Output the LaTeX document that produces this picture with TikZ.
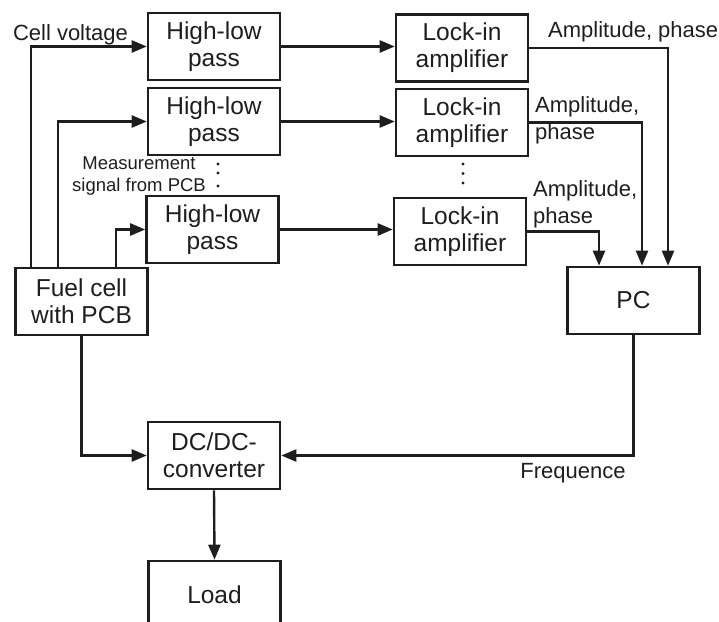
\documentclass[tikz,border=0pt]{standalone}
\usepackage{fontspec}
\setmainfont{Liberation Sans}
\usetikzlibrary{arrows.meta,calc}
\definecolor{ink}{HTML}{1E1E1E}
\begin{document}
\begin{tikzpicture}[x=1pt,y=-1pt,
  box/.style={draw=ink,line width=2.6pt,minimum width=132pt,minimum height=67pt,
    inner sep=0pt,align=center,text=ink,font=\fontsize{24.5}{27}\selectfont},
  lbl/.style={text=ink,inner sep=0pt,align=left,font=\fontsize{22}{27}\selectfont},
  arr/.style={draw=ink,line width=2.4pt,-{Triangle[length=15pt,width=12pt]}},
  dotc/.style={fill=ink,circle,inner sep=0pt,minimum size=3.2pt}]
\useasboundingbox (0,0) rectangle (719,621);
% boxes
\node[box] (HL1) at (214,46.5) {High-low\\pass};
\node[box] (HL2) at (214,121.5) {High-low\\pass};
\node[box] (HL3) at (212.5,229.5) {High-low\\pass};
\node[box] (LA1) at (462,48) {Lock-in\\amplifier};
\node[box] (LA2) at (462,122.5) {Lock-in\\amplifier};
\node[box] (LA3) at (460,231.5) {Lock-in\\amplifier};
\node[box] (FC) at (81.5,301.5) {Fuel cell\\with PCB};
\node[box] (PC) at (633.5,300.5) {PC};
\node[box] (DC) at (214,455.5) {DC/DC-\\converter};
\node[box] (LD) at (214.5,594.5) {Load};
% fuel cell to filters
\draw[arr] ([xshift=-50.5pt]FC.north) |- (HL1.west);
\draw[arr] ([xshift=-23.5pt]FC.north) |- (HL2.west);
\draw[arr] ([xshift=34.5pt]FC.north) |- (HL3.west);
% filters to lock-in
\draw[arr] (HL1.east) -- (HL1.east -| LA1.west);
\draw[arr] (HL2.east) -- (HL2.east -| LA2.west);
\draw[arr] (HL3.east) -- (HL3.east -| LA3.west);
% lock-in to PC
\draw[arr] (LA1.east) -| ([xshift=34.5pt]PC.north);
\draw[arr] (LA2.east) -| ([xshift=8.5pt]PC.north);
\draw[arr] (LA3.east) -| ([xshift=-34.5pt]PC.north);
% PC to DC, FC to DC, DC to load
\draw[arr] (PC.south) |- (DC.east);
\draw[arr] (FC.south) |- (DC.west);
\draw[arr] (DC.south) -- (LD.north);
% labels
\node[lbl,anchor=center] (lcv) at (70.5,35) {Cell voltage};
\node[lbl,anchor=west] (la1) at (548,32) {Amplitude, phase};
\node[lbl,anchor=north west] (la2) at (535,96) {Amplitude,\\phase};
\node[lbl,anchor=north west] (la3) at (533,180) {Amplitude,\\phase};
\node[text=ink,inner sep=0pt,align=center,font=\fontsize{18.5}{22}\selectfont] (meas) at (139,176) {Measurement\\signal from PCB};
\node[lbl,anchor=center] (freq) at (573,473) {Frequence};
% dots
\node[dotc] (d1) at (218,164) {};
\node[dotc] (d2) at (218,173) {};
\node[dotc] (d3) at (218,186) {};
\node[dotc] (d4) at (463,164) {};
\node[dotc] (d5) at (463,173.5) {};
\node[dotc] (d6) at (463,183) {};
\end{tikzpicture}
\end{document}
